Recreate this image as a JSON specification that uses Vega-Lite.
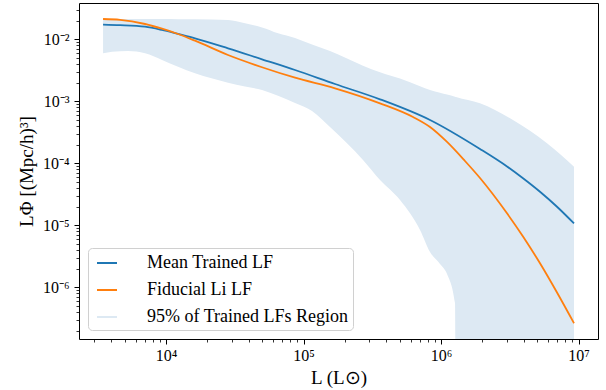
{
  "$schema": "https://vega.github.io/schema/vega-lite/v6.json",
  "width": 519,
  "height": 336,
  "autosize": {"type": "none"},
  "padding": {"left": 79, "top": 3, "right": 8, "bottom": 51},
  "datasets": {
    "band": [
      {"L": 3483, "lo": 0.00594, "hi": 0.02141},
      {"L": 4049, "lo": 0.00631, "hi": 0.02133},
      {"L": 5291, "lo": 0.00648, "hi": 0.02125},
      {"L": 7037, "lo": 0.00594, "hi": 0.02125},
      {"L": 9352, "lo": 0.00464, "hi": 0.02117},
      {"L": 12228, "lo": 0.00361, "hi": 0.02109},
      {"L": 16248, "lo": 0.00283, "hi": 0.02102},
      {"L": 28240, "lo": 0.00200, "hi": 0.02048},
      {"L": 37540, "lo": 0.001739, "hi": 0.01812},
      {"L": 49920, "lo": 0.001522, "hi": 0.01550},
      {"L": 65240, "lo": 0.001227, "hi": 0.01250},
      {"L": 86760, "lo": 0.000939, "hi": 0.01050},
      {"L": 115300, "lo": 0.000698, "hi": 0.00824},
      {"L": 155800, "lo": 0.000385, "hi": 0.00645},
      {"L": 270800, "lo": 0.000113, "hi": 0.00376},
      {"L": 360000, "lo": 0.0000538, "hi": 0.002946},
      {"L": 503300, "lo": 0.0000256, "hi": 0.00233},
      {"L": 703700, "lo": 0.0000084, "hi": 0.001752},
      {"L": 831800, "lo": 0.00000371, "hi": 0.001522},
      {"L": 983300, "lo": 0.00000238, "hi": 0.001376},
      {"L": 1106000, "lo": 0.00000164, "hi": 0.001283},
      {"L": 1264000, "lo": 0.000000558, "hi": 0.001187},
      {"L": 1285000, "lo": 1e-9, "hi": 0.001173},
      {"L": 1921000, "lo": 1e-9, "hi": 0.000928},
      {"L": 3338000, "lo": 1e-9, "hi": 0.000499},
      {"L": 5900000, "lo": 1e-9, "hi": 0.00021},
      {"L": 9275000, "lo": 1e-9, "hi": 0.0000881}
    ],
    "lines": [
      {"series": "Mean Trained LF", "L": 3483, "phi": 0.01720},
      {"series": "Mean Trained LF", "L": 4630, "phi": 0.01688},
      {"series": "Mean Trained LF", "L": 7037, "phi": 0.01596},
      {"series": "Mean Trained LF", "L": 9352, "phi": 0.01413},
      {"series": "Mean Trained LF", "L": 12228, "phi": 0.01218},
      {"series": "Mean Trained LF", "L": 16248, "phi": 0.01038},
      {"series": "Mean Trained LF", "L": 28240, "phi": 0.00716},
      {"series": "Mean Trained LF", "L": 49920, "phi": 0.00476},
      {"series": "Mean Trained LF", "L": 86760, "phi": 0.00320},
      {"series": "Mean Trained LF", "L": 169500, "phi": 0.00190},
      {"series": "Mean Trained LF", "L": 360000, "phi": 0.001077},
      {"series": "Mean Trained LF", "L": 831800, "phi": 0.000499},
      {"series": "Mean Trained LF", "L": 1921000, "phi": 0.00017},
      {"series": "Mean Trained LF", "L": 3020000, "phi": 0.0000888},
      {"series": "Mean Trained LF", "L": 3948000, "phi": 0.0000573},
      {"series": "Mean Trained LF", "L": 5248000, "phi": 0.0000347},
      {"series": "Mean Trained LF", "L": 6977000, "phi": 0.0000199},
      {"series": "Mean Trained LF", "L": 9275000, "phi": 0.0000107},
      {"series": "Fiducial Li LF", "L": 3483, "phi": 0.02125},
      {"series": "Fiducial Li LF", "L": 4630, "phi": 0.02064},
      {"series": "Fiducial Li LF", "L": 7037, "phi": 0.01765},
      {"series": "Fiducial Li LF", "L": 9352, "phi": 0.01483},
      {"series": "Fiducial Li LF", "L": 12228, "phi": 0.01218},
      {"series": "Fiducial Li LF", "L": 16248, "phi": 0.00949},
      {"series": "Fiducial Li LF", "L": 28240, "phi": 0.00558},
      {"series": "Fiducial Li LF", "L": 49920, "phi": 0.00354},
      {"series": "Fiducial Li LF", "L": 86760, "phi": 0.00240},
      {"series": "Fiducial Li LF", "L": 169500, "phi": 0.001621},
      {"series": "Fiducial Li LF", "L": 360000, "phi": 0.000928},
      {"series": "Fiducial Li LF", "L": 625700, "phi": 0.000558},
      {"series": "Fiducial Li LF", "L": 831800, "phi": 0.000385},
      {"series": "Fiducial Li LF", "L": 1106000, "phi": 0.000221},
      {"series": "Fiducial Li LF", "L": 1494000, "phi": 0.0001089},
      {"series": "Fiducial Li LF", "L": 1921000, "phi": 0.0000579},
      {"series": "Fiducial Li LF", "L": 3020000, "phi": 0.00001561},
      {"series": "Fiducial Li LF", "L": 3948000, "phi": 0.0000066},
      {"series": "Fiducial Li LF", "L": 5248000, "phi": 0.00000244},
      {"series": "Fiducial Li LF", "L": 6977000, "phi": 0.000000824},
      {"series": "Fiducial Li LF", "L": 9275000, "phi": 0.000000263}
    ]
  },
  "layer": [
    {
      "data": {"name": "band"},
      "mark": {"type": "area", "interpolate": "monotone", "clip": true, "opacity": 1},
      "encoding": {
        "x": {
          "field": "L", "type": "quantitative",
          "scale": {"type": "log", "domain": [2328, 13860000], "nice": false},
          "axis": {
            "orient": "bottom",
            "values": [10000, 100000, 1000000, 10000000],
            "labelExpr": "datum.value < 50000 ? '10⁴' : datum.value < 500000 ? '10⁵' : datum.value < 5000000 ? '10⁶' : '10⁷'",
            "tickSize": 5, "tickWidth": 1, "tickColor": "#000",
            "domain": false, "grid": false,
            "labelFont": "Liberation Serif", "labelFontSize": 16, "labelColor": "#000", "labelPadding": 3, "labelFlush": false,
            "title": "L (L⊙)",
            "titleFont": "Liberation Serif", "titleFontSize": 19, "titleFontWeight": "normal", "titleColor": "#000", "titlePadding": 5
          }
        },
        "y": {
          "field": "hi", "type": "quantitative",
          "scale": {"type": "log", "domain": [1.466e-7, 0.0385], "nice": false},
          "axis": {
            "orient": "left",
            "values": [0.000001, 0.00001, 0.0001, 0.001, 0.01],
            "labelExpr": "datum.value > 0.005 ? '10⁻²' : datum.value > 0.0005 ? '10⁻³' : datum.value > 0.00005 ? '10⁻⁴' : datum.value > 0.000005 ? '10⁻⁵' : '10⁻⁶'",
            "tickSize": 5, "tickWidth": 1, "tickColor": "#000",
            "domain": false, "grid": false,
            "labelFont": "Liberation Serif", "labelFontSize": 16, "labelColor": "#000", "labelPadding": 5, "labelFlush": false,
            "title": "LΦ [(Mpc/h)³]",
            "titleFont": "Liberation Serif", "titleFontSize": 19, "titleFontWeight": "normal", "titleColor": "#000", "titlePadding": 6
          }
        },
        "y2": {"field": "lo"},
        "color": {
          "datum": "95% of Trained LFs Region", "type": "nominal",
          "scale": {"domain": ["Mean Trained LF", "Fiducial Li LF", "95% of Trained LFs Region"], "range": ["#1f77b4", "#ff7f0e", "#dde9f3"]},
          "legend": {
            "encode": {
              "symbols": {
                "shape": {"value": {"expr": "datum.value === '95% of Trained LFs Region' ? 'M-1.9,-0.65H1.9V0.65H-1.9Z' : 'M-1.9,0H1.9'"}},
                "fill": {"value": {"expr": "datum.value === '95% of Trained LFs Region' ? '#dde9f3' : 'transparent'"}},
                "fillOpacity": {"value": 1},
                "opacity": {"value": 1},
                "stroke": {"value": {"expr": "datum.value === 'Mean Trained LF' ? '#1f77b4' : datum.value === 'Fiducial Li LF' ? '#ff7f0e' : '#dde9f3'"}}
              }
            }
          }
        }
      }
    },
    {
      "data": {"name": "lines"},
      "mark": {"type": "line", "interpolate": "monotone", "strokeWidth": 1.8, "clip": true},
      "encoding": {
        "x": {"field": "L", "type": "quantitative", "axis": null},
        "y": {"field": "phi", "type": "quantitative", "axis": null},
        "color": {"field": "series", "type": "nominal"}
      }
    },
    {
      "data": {"name": "lines"},
      "mark": {"type": "point", "opacity": 0},
      "encoding": {
        "x": {
          "field": "L", "type": "quantitative",
          "axis": {
            "orient": "bottom",
            "values": [3000, 4000, 5000, 6000, 7000, 8000, 9000, 20000, 30000, 40000, 50000, 60000, 70000, 80000, 90000, 200000, 300000, 400000, 500000, 600000, 700000, 800000, 900000, 2000000, 3000000, 4000000, 5000000, 6000000, 7000000, 8000000, 9000000],
            "labels": false, "tickSize": 3, "tickWidth": 0.8, "tickColor": "#000", "domain": false, "grid": false, "title": null
          }
        },
        "y": {
          "field": "phi", "type": "quantitative",
          "axis": {
            "orient": "left",
            "values": [2e-7, 3e-7, 4e-7, 5e-7, 6e-7, 7e-7, 8e-7, 9e-7, 2e-6, 3e-6, 4e-6, 5e-6, 6e-6, 7e-6, 8e-6, 9e-6, 2e-5, 3e-5, 4e-5, 5e-5, 6e-5, 7e-5, 8e-5, 9e-5, 0.0002, 0.0003, 0.0004, 0.0005, 0.0006, 0.0007, 0.0008, 0.0009, 0.002, 0.003, 0.004, 0.005, 0.006, 0.007, 0.008, 0.009, 0.02, 0.03],
            "labels": false, "tickSize": 3, "tickWidth": 0.8, "tickColor": "#000", "domain": false, "grid": false, "title": null
          }
        }
      }
    }
  ],
  "resolve": {"axis": {"x": "independent", "y": "independent"}},
  "config": {
    "view": {"stroke": "#000", "strokeWidth": 1},
    "font": "Liberation Serif",
    "legend": {
      "title": null,
      "orient": "bottom-left",
      "offset": 9,
      "symbolType": "stroke",
      "symbolSize": 400,
      "symbolStrokeWidth": 2,
      "symbolOffset": 4,
      "labelFont": "Liberation Serif",
      "labelFontSize": 18,
      "labelColor": "#000",
      "labelOffset": 29,
      "labelLimit": 400,
      "rowPadding": 7,
      "padding": 4,
      "strokeColor": "#d0d0d0",
      "fillColor": "#ffffff",
      "cornerRadius": 4
    }
  }
}
